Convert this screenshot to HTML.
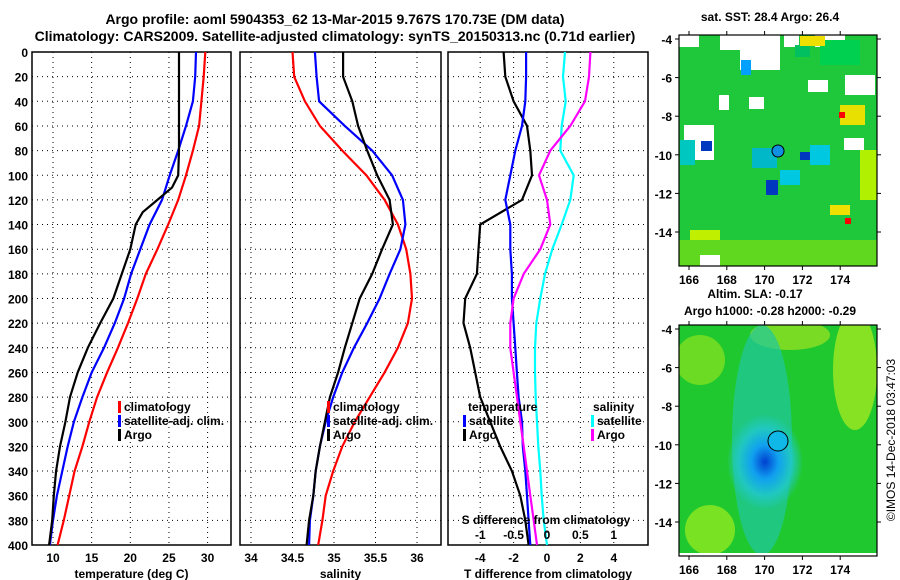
<!DOCTYPE html>
<html><head><meta charset="utf-8"><style>
body{margin:0;background:#fff;}
svg{display:block;font-family:"Liberation Sans",sans-serif;font-weight:bold;}
</style></head><body>
<svg id="s" width="900" height="580" viewBox="0 0 900 580"></svg>
<script>
const depths=[0,20,40,60,80,100,120,140,160,180,200,220,240,260,280,300,320,340,360,380,400];
const tempClim=[29.7,29.5,29.2,28.9,28.1,27.2,26.2,24.9,23.5,22,20.9,19.7,18.4,17,15.7,14.7,13.8,12.8,12.1,11.4,10.6];
const tempSat=[28.5,28.4,28.1,27.2,26.2,25.1,24.1,22.5,21.3,20.1,19.2,18,16.6,15,13.8,12.7,11.9,11.2,10.5,10,9.6];
const argoDepths=[0,40,80,100,110,120,130,140,160,180,200,220,240,260,280,300,320,340,360,380,400];
const tempArgo=[26.3,26.3,26.3,26.2,25.4,23.5,21.6,20.7,20,18.9,17.8,16.1,14.5,13.2,12.2,11.6,10.9,10.4,10.1,9.9,9.5];
const salClim=[34.5,34.52,34.65,34.83,35.1,35.39,35.61,35.77,35.87,35.92,35.94,35.89,35.77,35.61,35.43,35.25,35.1,34.99,34.9,34.86,34.81];
const salSat=[34.77,34.79,34.82,35.13,35.46,35.7,35.83,35.86,35.8,35.67,35.55,35.4,35.24,35.1,34.99,34.9,34.83,34.78,34.75,34.71,34.7];
const salArgo=[35.11,35.11,35.22,35.29,35.4,35.52,35.67,35.71,35.58,35.46,35.31,35.22,35.13,35.05,34.95,34.89,34.83,34.78,34.75,34.7,34.67];
const tdiffArgo=[-2.6,-2.5,-2.0,-1.2,-1.0,-0.9,-1.5,-4.0,-4.1,-4.2,-4.9,-5.0,-4.6,-4.3,-4.0,-3.4,-2.8,-2.1,-1.6,-1.3,-1.1];
const tdiffSat=[-1.25,-1.25,-1.3,-1.5,-1.9,-2.2,-2.5,-2.2,-2.2,-2.1,-2.1,-2.0,-1.9,-1.8,-1.7,-1.5,-1.45,-1.3,-1.2,-1.1,-1.0];
const sdiffArgo=[0.65,0.63,0.57,0.35,0.05,-0.12,0.0,0.05,-0.1,-0.35,-0.5,-0.55,-0.55,-0.5,-0.45,-0.4,-0.35,-0.3,-0.25,-0.2,-0.15];
const sdiffSat=[0.27,0.24,0.28,0.22,0.2,0.4,0.35,0.22,0.08,-0.03,-0.1,-0.16,-0.18,-0.18,-0.17,-0.15,-0.13,-0.1,-0.08,-0.05,0.0];
const depthTicks=[0,20,40,60,80,100,120,140,160,180,200,220,240,260,280,300,320,340,360,380,400];
const tempTicks=[10,15,20,25,30];
const salTicks=[34,34.5,35,35.5,36];
const tdTicks=[-4,-2,0,2,4];
const sdTicks=[-1,-0.5,0,0.5,1];
const lonTicks=[166,168,170,172,174];
const latTicks=[-4,-6,-8,-10,-12,-14];

const NS="http://www.w3.org/2000/svg";
const svg=document.getElementById('s');
function el(tag,attrs,parent){const e=document.createElementNS(NS,tag);for(const k in attrs)e.setAttribute(k,attrs[k]);(parent||svg).appendChild(e);return e;}
function txt(x,y,s,size,anchor,parent){const t=el('text',{x:x,y:y,'font-size':size,'text-anchor':anchor||'middle',fill:'#000'},parent);t.textContent=s;return t;}
const Y=d=>52+d*(493/400);

txt(335,24,"Argo profile: aoml 5904353_62 13-Mar-2015 9.767S 170.73E (DM data)",14);
txt(335,41,"Climatology: CARS2009. Satellite-adjusted climatology: synTS_20150313.nc (0.71d earlier)",14);

function panel(name,x0,x1,xf,ticks,fmt,label,showDepth){
  const g=el('g',{},svg);
  
  
  depthTicks.forEach(d=>{ if(d>0&&d<400) el('line',{x1:x0,x2:x1,y1:Y(d),y2:Y(d),stroke:'#000','stroke-width':1,'stroke-dasharray':'1,4'},g);
    if(showDepth) txt(28,Y(d)+5,String(d),12,'end',g);});
  ticks.forEach(t=>{const x=xf(t);el('line',{x1:x,x2:x,y1:52,y2:545,stroke:'#000','stroke-width':1,'stroke-dasharray':'1,4'},g);
    if(fmt) txt(x,562,fmt(t),12,'middle',g);});
  el('rect',{x:x0,y:52,width:x1-x0,height:493,fill:'none',stroke:'#000','stroke-width':1.5},g);
  if(label) txt((x0+x1)/2,578,label,12,'middle',g);
  return g;
}
function line(g,xs,ds,xf,color,name){
  const p=xs.map((v,i)=>xf(v).toFixed(1)+','+Y(ds[i]).toFixed(1)).join(' ');
  const e=el('polyline',{points:p,fill:'none',stroke:color,'stroke-width':2.2},g);
  
  
}
function legend(g,x,y,color,label,name){
  el('rect',{x:x,y:y-10,width:3,height:12,fill:color},g);
  const t=txt(x+6,y,label,12,'start',g);
  
  
}
const xT=t=>53+(t-10)*7.73;
const g1=panel('temperature-panel',32,231,xT,tempTicks,String,'temperature (deg C)',true);
line(g1,tempClim,depths,xT,'#f00','temp-climatology-line');
line(g1,tempSat,depths,xT,'#00f','temp-satellite-line');
line(g1,tempArgo,argoDepths,xT,'#000','temp-argo-line');
legend(g1,118,411,'#f00','climatology','legend-climatology');
legend(g1,118,425,'#00f','satellite-adj. clim.','legend-satellite');
legend(g1,118,439,'#000','Argo','legend-argo');
const xS=s=>251+(s-34)*83;
const g2=panel('salinity-panel',240,441,xS,salTicks,String,'salinity',false);
line(g2,salClim,depths,xS,'#f00','sal-climatology-line');
line(g2,salSat,depths,xS,'#00f','sal-satellite-line');
line(g2,salArgo,depths,xS,'#000','sal-argo-line');
legend(g2,327,411,'#f00','climatology','legend-climatology-2');
legend(g2,327,425,'#00f','satellite-adj. clim.','legend-satellite-2');
legend(g2,327,439,'#000','Argo','legend-argo-2');
const xD=t=>547+t*16.7;
const xSD=s=>547+s*66.7;
const g3=panel('difference-panel',448,648,xD,tdTicks,String,'T difference from climatology',false);
line(g3,tdiffArgo,depths,xD,'#000','tdiff-argo-line');
line(g3,tdiffSat,depths,xD,'#00f','tdiff-satellite-line');
line(g3,sdiffSat,depths,xSD,'#0ff','sdiff-satellite-line');
line(g3,sdiffArgo,depths,xSD,'#f0f','sdiff-argo-line');
txt(546,524,'S difference from climatology',12,'middle',g3);
sdTicks.forEach(s=>txt(xSD(s),539,String(s),12,'middle',g3));
txt(468,411,'temperature',12,'start',g3);
legend(g3,463,425,'#00f','satellite','legend-t-satellite');
legend(g3,463,439,'#000','Argo','legend-t-argo');
txt(593,411,'salinity',12,'start',g3);
legend(g3,591,425,'#0ff','satellite','legend-s-satellite');
legend(g3,591,439,'#f0f','Argo','legend-s-argo');

const defs=el('defs',{},svg);
function mapFrame(name,y0,y1,titles){
  const cp=el('clipPath',{id:'clip-'+name},defs);
  el('rect',{x:679,y:y0,width:198,height:y1-y0},cp);
  const outer=el('g',{},svg);
  
  
  const g=el('g',{'clip-path':'url(#clip-'+name+')'},outer);
  const lonX=l=>689+(l-166)*18.9;
  const latY=l=>y0+4+(-4-l)*19.3;
  return {g,lonX,latY,
    axes(){
      const a=outer;
      el('rect',{x:679,y:y0,width:198,height:y1-y0,fill:'none',stroke:'#000','stroke-width':1.2},a);
      lonTicks.forEach(l=>{el('line',{x1:lonX(l),x2:lonX(l),y1:y0-4,y2:y0,stroke:'#000'},a);el('line',{x1:lonX(l),x2:lonX(l),y1:y1,y2:y1+4,stroke:'#000'},a);txt(lonX(l),y1+18,String(l),12,'middle',a);});
      latTicks.forEach(l=>{el('line',{x1:675,x2:679,y1:latY(l),y2:latY(l),stroke:'#000'},a);el('line',{x1:877,x2:881,y1:latY(l),y2:latY(l),stroke:'#000'},a);txt(672,latY(l)+5,String(l),12,'end',a);});
      titles.forEach(t=>txt(t[0],t[1],t[2],12,'middle',a));
    }};
}
const m1=mapFrame('sst-map',35,266,[[770,21,'sat. SST: 28.4 Argo: 26.4']]);
el('rect',{x:679,y:35,width:198,height:231,fill:'#1fc83a'},m1.g);
const sstPatches=[[720,35,60,15,'#ffffff'],[679,35,20,12,'#ffffff'],[740,50,40,20,'#ffffff'],[784,35,15,12,'#ffffff'],[815,35,30,12,'#ffffff'],[795,45,15,12,'#00c060'],[820,40,40,25,'#00d050'],[800,36,25,10,'#f0e000'],[845,75,30,20,'#ffffff'],[808,80,20,12,'#ffffff'],[719,95,10,15,'#ffffff'],[749,97,15,12,'#ffffff'],[684,125,30,35,'#ffffff'],[701,141,11,10,'#0038c0'],[741,60,10,15,'#00a0ff'],[844,138,20,12,'#ffffff'],[840,105,25,20,'#e8e000'],[839,112,6,6,'#ff0000'],[766,180,12,15,'#0038c0'],[800,152,15,8,'#0038c0'],[810,145,20,20,'#00c8e0'],[860,150,17,50,'#b0f000'],[690,230,30,36,'#c0f000'],[679,240,200,26,'#60d820'],[845,218,6,6,'#ff0000'],[680,140,15,25,'#00c8c0'],[830,205,20,10,'#f0e000'],[752,148,25,20,'#00b8c8'],[780,170,20,15,'#00c8e0'],[700,255,20,11,'#ffffff']];
sstPatches.forEach(p=>el('rect',{x:p[0],y:p[1],width:p[2],height:p[3],fill:p[4]},m1.g));
el('circle',{cx:778,cy:151,r:6,fill:'#1090e0',stroke:'#000','stroke-width':1},m1.g);
m1.axes();
const m2=mapFrame('sla-map',325,556,[[755,298,'Altim. SLA: -0.17'],[770,315,'Argo h1000: -0.28 h2000: -0.29']]);
const rg=el('radialGradient',{id:'blob',cx:'0.5',cy:'0.5',r:'0.5'},defs);
el('stop',{offset:'0','stop-color':'#0040d0'},rg);
el('stop',{offset:'0.35','stop-color':'#10a0f0'},rg);
el('stop',{offset:'0.7','stop-color':'#20c8c0'},rg);
el('stop',{offset:'1','stop-color':'#20c8c0','stop-opacity':'0'},rg);
el('rect',{x:679,y:325,width:198,height:231,fill:'#20c830'},m2.g);
el('ellipse',{cx:700,cy:360,rx:25,ry:25,fill:'#80e020',opacity:0.8},m2.g);
el('ellipse',{cx:790,cy:335,rx:40,ry:15,fill:'#90e020',opacity:0.8},m2.g);
el('ellipse',{cx:855,cy:370,rx:22,ry:60,fill:'#a0e820',opacity:0.8},m2.g);
el('ellipse',{cx:710,cy:530,rx:25,ry:25,fill:'#90e820',opacity:0.8},m2.g);
el('ellipse',{cx:762,cy:440,rx:30,ry:115,fill:'#20c8a0',opacity:0.7},m2.g);
el('ellipse',{cx:765,cy:462,rx:38,ry:48,fill:'url(#blob)'},m2.g);
el('rect',{x:679,y:553,width:198,height:3,fill:'#fff'},m2.g);
el('circle',{cx:778,cy:441,r:10,fill:'#10b8e8',stroke:'#000','stroke-width':1},m2.g);
m2.axes();
const c=txt(0,0,'©IMOS 14-Dec-2018 03:47:03',12,'middle',svg);
c.setAttribute('transform','translate(895,440) rotate(-90)');
c.setAttribute('font-weight','normal');


</script>
</body></html>
